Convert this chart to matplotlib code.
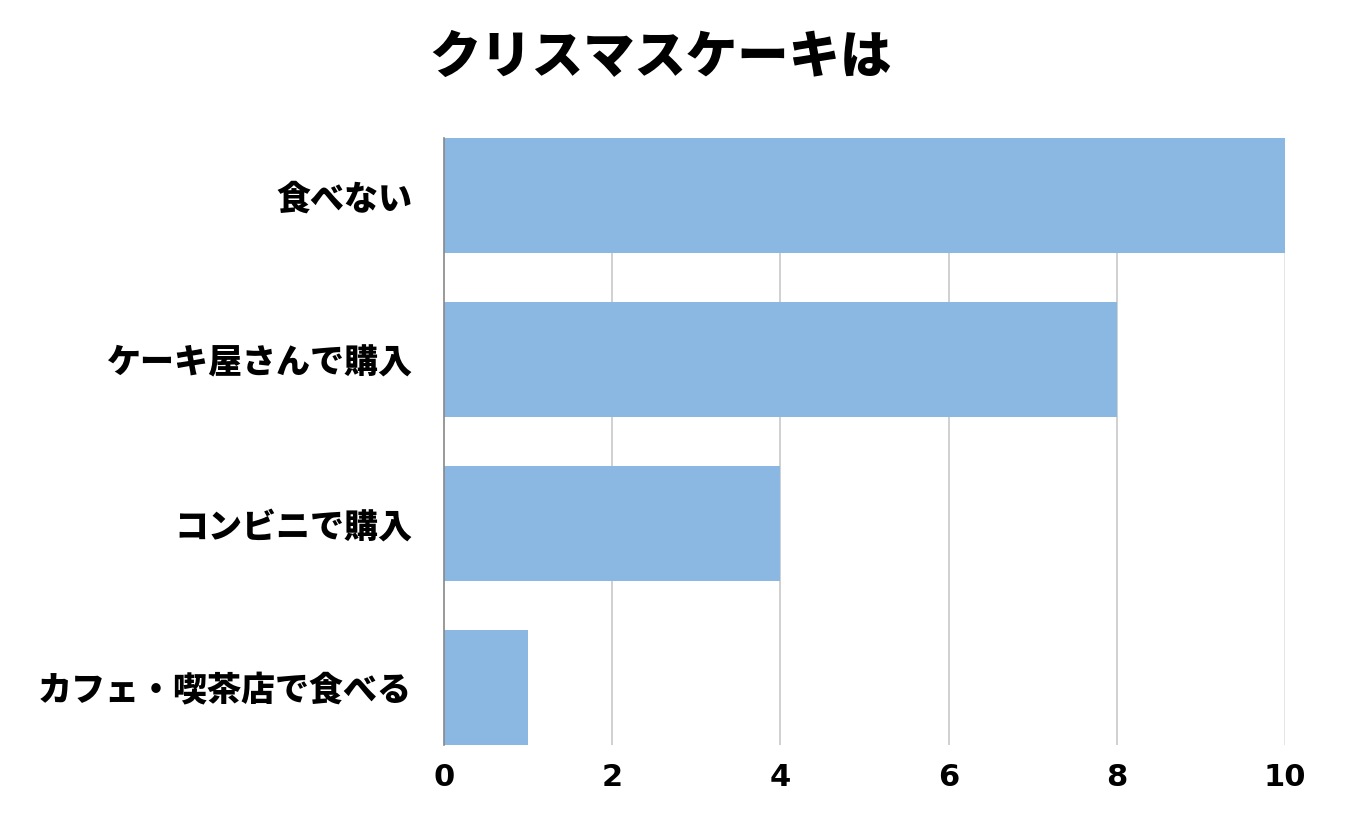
import matplotlib
matplotlib.use("Agg")
import matplotlib.pyplot as plt

categories = ["食べない", "ケーキ屋さんで購入", "コンビニで購入", "カフェ・喫茶店で食べる"]
values = [10, 8, 4, 1]
xticks = [0, 2, 4, 6, 8, 10]
title = "クリスマスケーキは"

plt.rcParams['font.family'] = ['Noto Sans CJK JP', 'DejaVu Sans']

fig = plt.figure(figsize=(13.46, 8.30), dpi=100)
ax = fig.add_axes([444/1346, 1-745/830, (1285-444)/1346, (745-138)/830])

ypos = list(range(len(categories)))
ax.barh(ypos, values, height=0.70, color="#8AB8E2", zorder=2)
ax.set_ylim(len(categories) - 0.65, -0.35)
ax.set_xlim(0, 10)
ax.set_xticks(xticks)
ax.set_xticklabels([str(t) for t in xticks], fontsize=22, fontweight='bold',
                   family=['DejaVu Sans'])
ax.set_yticks(ypos)
ax.set_yticklabels(categories, fontsize=24.5, fontweight='black')
ax.tick_params(axis='both', length=0)
ax.tick_params(axis='y', pad=23)
ax.tick_params(axis='x', pad=13)

for t in xticks[1:]:
    ax.axvline(t, color="#e0e0e0" if t == 10 else "#c8c8c8", linewidth=1.2, zorder=1)

for s in ["top", "right", "bottom"]:
    ax.spines[s].set_visible(False)
ax.spines["left"].set_color("#888888")
ax.spines["left"].set_linewidth(1.2)
ax.spines["left"].set_zorder(3)

fig.text(660/1346, 1-58/830, title, ha='center', va='center', fontsize=37, fontweight='black')

fig.savefig("out.png", dpi=100, facecolor="white")
